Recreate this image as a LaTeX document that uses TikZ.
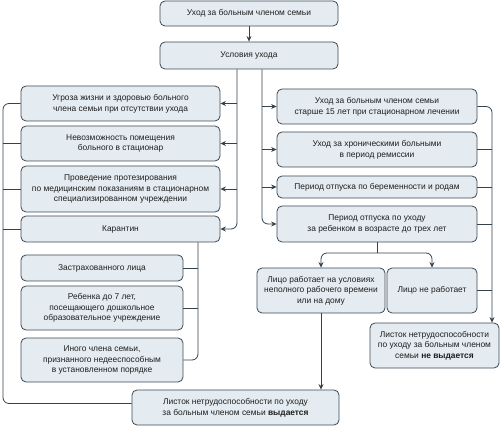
\documentclass[tikz,border=0pt]{standalone}
\usepackage{fontspec}
\setmainfont{Liberation Sans}
\usetikzlibrary{arrows.meta}
\definecolor{boxfill}{HTML}{E4ECF1}
\definecolor{boxline}{HTML}{3D4852}
\definecolor{conn}{HTML}{34424D}
\definecolor{txt}{HTML}{1E1E1E}
\begin{document}
\begin{tikzpicture}[x=1pt,y=-1pt,
  box/.style={draw=boxline, fill=boxfill, line width=0.8pt, rounded corners=5pt,
    align=center, inner sep=1pt, text=txt,
    font=\fontsize{8.4}{10.6}\selectfont},
  link/.style={draw=conn, line width=0.8pt},
  arr/.style={link, -{Stealth[length=5.5pt,width=5pt]}},
  rc/.style={rounded corners=6pt}]
\useasboundingbox (0,0) rectangle (500,427);

\node[box, minimum width=178pt, minimum height=25pt] (top) at (249,13.5) {Уход за больным членом семьи};
\node[box, minimum width=178pt, minimum height=27pt] (cond) at (249,55.5) {Условия ухода};

\node[box, minimum width=199pt, minimum height=35pt] (L1) at (120.5,103.5) {Угроза жизни и здоровью больного\\члена семьи при отсутствии ухода};
\node[box, minimum width=199pt, minimum height=35pt] (L2) at (120.5,143.5) {Невозможность помещения\\больного в стационар};
\node[box, minimum width=199pt, minimum height=46pt] (L3) at (120.5,189) {Проведение протезирования\\по медицинским показаниям в стационарном\\специализированном учреждении};
\node[box, minimum width=199pt, minimum height=26pt] (L4) at (120.5,229) {Карантин};

\node[box, minimum width=162pt, minimum height=26pt] (S1) at (102,268) {Застрахованного лица};
\node[box, minimum width=162pt, minimum height=44pt] (S2) at (102,308) {Ребенка до 7 лет,\\посещающего дошкольное\\образовательное учреждение};
\node[box, minimum width=162pt, minimum height=44pt] (S3) at (102,360) {Иного члена семьи,\\признанного недееспособным\\в установленном порядке};

\node[box, minimum width=207pt, minimum height=35pt] (B) at (235.5,407.5) {Листок нетрудоспособности по уходу\\за больным членом семьи \textbf{выдается}};

\node[box, minimum width=200pt, minimum height=35pt] (R1) at (377,106.5) {Уход за больным членом семьи\\старше 15 лет при стационарном лечении};
\node[box, minimum width=200pt, minimum height=35pt] (R2) at (377,149.5) {Уход за хроническими больными\\в период ремиссии};
\node[box, minimum width=200pt, minimum height=22pt] (R3) at (377,187) {Период отпуска по беременности и родам};
\node[box, minimum width=200pt, minimum height=36pt] (R4) at (377,224) {Период отпуска по уходу\\за ребенком в возрасте до трех лет};

\node[box, minimum width=128pt, minimum height=45pt] (W) at (321,290.5) {Лицо работает на условиях\\неполного рабочего времени\\или на дому};
\node[box, minimum width=90pt, minimum height=45pt] (N) at (432,290.5) {Лицо не работает};
\node[box, minimum width=129pt, minimum height=45pt] (NV) at (434.5,345.5) {Листок нетрудоспособности\\по уходу за больным членом\\семьи \textbf{не выдается}};

% coordinates for trunks and brackets
\coordinate (tl) at (237,69);
\coordinate (tr) at (262,69);
\coordinate (lb) at (3,0);
\coordinate (sb) at (198,0);
\coordinate (rb) at (492,0);
\coordinate (sp) at (377,253);

% top to conditions
\draw[arr] (top) -- (cond);

% left trunk
\draw[arr, rc] (cond.south -| tl) |- (L4.east);
\draw[arr] (L1.east -| tl) -- (L1.east);
\draw[arr] (L2.east -| tl) -- (L2.east);
\draw[arr] (L3.east -| tl) -- (L3.east);

% right trunk
\draw[arr, rc] (cond.south -| tr) |- (R4.west);
\draw[arr] (R1.west -| tr) -- (R1.west);
\draw[arr] (R2.west -| tr) -- (R2.west);
\draw[arr] (R3.west -| tr) -- (R3.west);

% left bracket to "vydaetsya"
\draw[link, rc] (L1.west) -| ([yshift=4pt]lb |- B.west) -- ([yshift=4pt]B.west);
\draw[link] (L2.west) -- (L2.west -| lb);
\draw[link] (L3.west) -- (L3.west -| lb);
\draw[link] (L4.west) -- (L4.west -| lb);

% quarantine sub-bracket
\draw[link, rc] (L4.south -| sb) |- (S3.east);
\draw[link] (S1.east) -- (S1.east -| sb);
\draw[link] (S2.east) -- (S2.east -| sb);

% right bracket to "ne vydaetsya"
\draw[arr, rc] (R1.east) -| (rb |- NV.north);
\draw[link] (R2.east) -- (R2.east -| rb);
\draw[link] (R3.east) -- (R3.east -| rb);
\draw[link] (R4.east) -- (R4.east -| rb);
\draw[link] (N.east) -- (N.east -| rb);

% split under R4
\draw[link] (R4.south -| sp) -- (sp);
\draw[arr, rc] (sp) -| (W.north);
\draw[arr, rc] (sp) -| (N.north);

% W down to B
\draw[arr] (W.south) -- (W.south |- B.north);
\end{tikzpicture}
\end{document}
